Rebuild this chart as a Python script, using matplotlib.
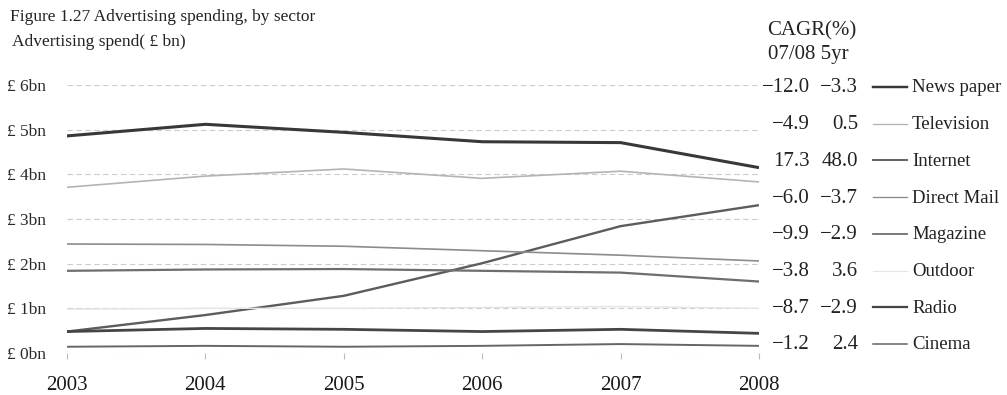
import matplotlib
matplotlib.use('Agg')
import matplotlib.pyplot as plt
from matplotlib.lines import Line2D

# ------------Данные--------------------------------------------------

years = [2003, 2004, 2005, 2006, 2007, 2008]

news_paper  = [4.86, 5.12, 4.94, 4.73, 4.71, 4.15]
television  = [3.71, 3.96, 4.12, 3.91, 4.07, 3.83]
internet    = [0.48, 0.85, 1.28, 2.01, 2.84, 3.31]
direct_mail = [2.44, 2.43, 2.39, 2.29, 2.19, 2.06]
magazine    = [1.84, 1.87, 1.88, 1.84, 1.80, 1.60]
outdoor     = [0.98, 1.00, 1.00, 1.02, 1.04, 1.00]
radio       = [0.48, 0.55, 0.53, 0.48, 0.53, 0.44]
cinema      = [0.14, 0.16, 0.14, 0.16, 0.20, 0.16]

sectors = ['News paper', 'Television', 'Internet', 'Direct Mail',
           'Magazine', 'Outdoor', 'Radio', 'Cinema']
cagr_0708 = [-12.0, -4.9, 17.3, -6.0, -9.9, -3.8, -8.7, -1.2]
cagr_5yr  = [-3.3, 0.5, 48.0, -3.7, -2.9, 3.6, -2.9, 2.4]

y_ticks = [0, 1, 2, 3, 4, 5, 6]
y_tick_labels = ['£ 0bn', '£ 1bn', '£ 2bn', '£ 3bn', '£ 4bn', '£ 5bn', '£ 6bn']

# ------------Стиль---------------------------------------------------

series = [news_paper, television, internet, direct_mail,
          magazine, outdoor, radio, cinema]
colors = ['#383838', '#b4b4b4', '#5c5c5c', '#8c8c8c',
          '#6e6e6e', '#e4e4e4', '#454545', '#666666']
widths = [2.2, 1.2, 1.7, 1.2, 1.6, 1.0, 2.0, 1.4]

plt.rcParams['font.family'] = ['Liberation Serif', 'DejaVu Serif']

W, H = 1007, 395


def fx(x):
    return x / W


def fy(y):
    return 1 - y / H


def fmt(v):
    return '{:.1f}'.format(v).replace('-', '\u2212')


# ------------График--------------------------------------------------

fig = plt.figure(figsize=(W / 100, H / 100), dpi=100)
ax = fig.add_axes([fx(67), fy(353), (759 - 67) / W, (353 - 85) / H])

for values, c, lw in zip(series, colors, widths):
    ax.plot(years, values, color=c, lw=lw, zorder=3, solid_capstyle='butt')

ax.set_xlim(2003, 2008)
ax.set_ylim(0, 6)
ax.set_xticks(years)
ax.set_yticks(y_ticks)
ax.set_yticklabels(y_tick_labels)
ax.yaxis.grid(True, color='#cccccc', linestyle=(0, (5, 3)), lw=0.8)

for s in ax.spines.values():
    s.set_visible(False)

ax.tick_params(axis='y', length=0, pad=43, labelsize=12.5, labelcolor='#2a2a2a')
for lab in ax.get_yticklabels():
    lab.set_horizontalalignment('left')
ax.tick_params(axis='x', length=4, color='#bbbbbb', width=0.8, pad=12.5,
               labelsize=15, labelcolor='#1a1a1a')

# ------------Подписи-------------------------------------------------

fig.text(fx(10), fy(21), 'Figure 1.27 Advertising spending, by sector',
         va='baseline', ha='left', size=12.5, color='#222222')
fig.text(fx(12), fy(46), 'Advertising spend( £ bn)',
         va='baseline', ha='left', size=12.5, color='#222222')

fig.text(fx(767), fy(31), 'CAGR(%)', va='center', ha='left', size=15, color='#222222')
fig.text(fx(768), fy(54), '07/08 5yr', va='center', ha='left', size=15, color='#222222')

for i, name in enumerate(sectors):
    y = 88 + i * 36.7
    fig.text(fx(810), fy(y), fmt(cagr_0708[i]), va='center', ha='right',
             size=15, color='#222222')
    fig.text(fx(858), fy(y), fmt(cagr_5yr[i]), va='center', ha='right',
             size=15, color='#222222')
    fig.add_artist(Line2D([fx(873), fx(907)], [fy(y - 1), fy(y - 1)],
                          color=colors[i], lw=widths[i] * 0.8,
                          transform=fig.transFigure))
    fig.text(fx(912), fy(y), name, va='center', ha='left',
             size=13.5, color='#222222')

plt.savefig('out.png', dpi=100)
